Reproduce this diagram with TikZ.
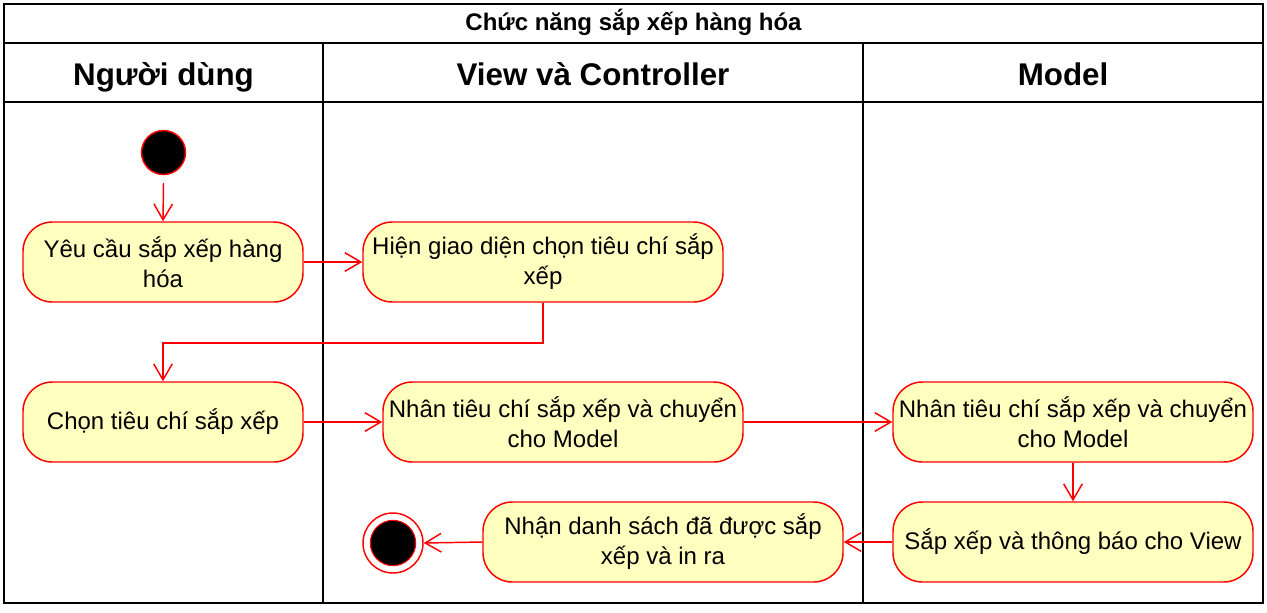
\documentclass[tikz,border=0pt]{standalone}
\usepackage{fontspec}
\setmainfont{Liberation Sans}
\usetikzlibrary{arrows.meta}
\definecolor{actfill}{HTML}{FFFFC0}
\definecolor{actred}{HTML}{FF0000}
\tikzset{
  lane/.style={draw=black, line width=1.5pt},
  act/.style={draw=actred, fill=actfill, line width=1.1pt, rounded corners=22pt,
    minimum width=210pt, minimum height=60pt, inner sep=0pt, align=center,
    font=\fontsize{18}{22.5}\selectfont},
  flow/.style={draw=actred, line width=1.1pt, -{Straight Barb[length=12pt,width=14pt,line width=1.1pt]}},
  hdr/.style={font=\bfseries\fontsize{23.5}{27}\selectfont, anchor=base},
  ttl/.style={font=\bfseries\fontsize{18}{21}\selectfont}
}
\begin{document}
\begin{tikzpicture}[x=0.75pt,y=-0.75pt]
\useasboundingbox (0,0) rectangle (1267,612);
% swimlane frame
\draw[lane] (4,4) rectangle (1263,603);
\draw[lane] (4,43) -- (1263,43);
\draw[lane] (4,102) -- (1263,102);
\draw[lane] (323,43) -- (323,603);
\draw[lane] (863,43) -- (863,603);
\node[ttl] (title) at (633.5,22) {Chức năng sắp xếp hàng hóa};
\node[hdr] (h1) at (163.5,85) {Người dùng};
\node[hdr] (h2) at (593,85) {View và Controller};
\node[hdr] (h3) at (1063,85) {Model};
% start
\node[circle, fill=black, draw=actred, line width=1.1pt, minimum size=33pt, inner sep=0pt] (start) at (163.5,152.5) {};
% activities
\node[act, minimum width=210pt] (a1) at (163,262) {Yêu cầu sắp xếp hàng\\hóa};
\node[act, minimum width=270pt] (a2) at (543,262) {Hiện giao diện chọn tiêu chí sắp\\xếp};
\node[act, minimum width=210pt] (a3) at (163,422) {Chọn tiêu chí sắp xếp};
\node[act, minimum width=270pt] (a4) at (563,422) {Nhân tiêu chí sắp xếp và chuyển\\cho Model};
\node[act, minimum width=270pt] (a5) at (1073,422) {Nhân tiêu chí sắp xếp và chuyển\\cho Model};
\node[act, minimum width=270pt] (a6) at (1073,542) {Sắp xếp và thông báo cho View};
\node[act, minimum width=270pt] (a7) at (663,542) {Nhận danh sách đã được sắp\\xếp và in ra};
% end
\node[circle, fill=white, draw=actred, line width=1.1pt, minimum size=45pt, inner sep=0pt] (endo) at (393,543) {};
\node[circle, fill=black, draw=actred, line width=0.8pt, minimum size=34pt, inner sep=0pt] (endi) at (393,543) {};
% flows
\coordinate (s1) at (163.5,183);
\draw[flow] (s1) -- (a1.north);
\draw[flow] (a1.east) -- (a2.west);
\draw[flow] (a2.south) |- (163,343) -- (a3.north);
\draw[flow] (a3.east) -- (a4.west);
\draw[flow] (a4.east) -- (a5.west);
\draw[flow] (a5.south) -- (a6.north);
\draw[flow] (a6.west) -- (a7.east);
\draw[flow] (a7.west) -- (endo.east);
\end{tikzpicture}
\end{document}
